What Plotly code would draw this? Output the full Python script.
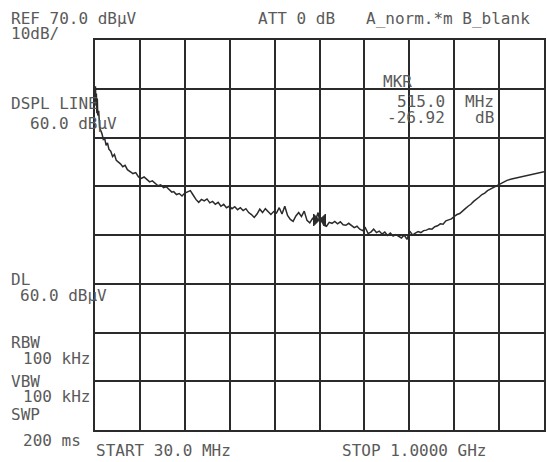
import plotly.graph_objects as go

# Swept trace A (30 MHz .. 1 GHz), level in dBuV
freq_mhz = [30, 31, 32, 33, 34, 35, 36, 38, 40, 42, 45, 48, 51, 54, 57, 60, 64, 68, 72, 76,
            80, 85, 90, 95, 100, 106, 112, 118, 124, 130, 136, 142, 148, 154, 160, 166, 172,
            178, 184, 190, 196, 200, 206, 212, 218, 224, 230, 236, 242, 248, 254, 260, 266,
            272, 278, 284, 290, 296, 302, 308, 314, 320, 326, 332, 338, 344, 350, 356, 362,
            368, 374, 380, 386, 392, 398, 404, 410, 416, 422, 428, 434, 440, 446, 452, 458,
            464, 470, 476, 482, 488, 494, 500, 506, 512, 515, 518, 524, 530, 536, 542, 548,
            554, 560, 566, 572, 578, 584, 590, 596, 602, 608, 614, 620, 626, 632, 638, 644,
            650, 656, 662, 668, 674, 680, 686, 692, 698, 704, 710, 716, 722, 728, 734, 740,
            746, 752, 758, 764, 770, 776, 782, 788, 794, 800, 806, 812, 818, 824, 830, 836,
            842, 848, 854, 860, 866, 872, 878, 884, 890, 896, 902, 910, 920, 930, 940, 950,
            960, 970, 980, 990, 1000]
level_dbuv = [57.5, 60.5, 56.5, 59.0, 55.0, 58.0, 54.5, 55.5, 52.0, 51.5, 50.8, 49.6, 49.8,
              48.4, 48.9, 47.6, 47.2, 46.1, 46.5, 45.3, 45.0, 44.6, 44.0, 44.3, 43.4, 43.0,
              42.6, 42.8, 41.9, 41.6, 41.9, 41.4, 40.9, 41.1, 40.5, 40.1, 40.3, 39.7, 39.9,
              39.3, 38.8, 38.9, 38.3, 38.5, 38.0, 38.6, 38.9, 39.1, 38.2, 37.3, 36.7, 37.3,
              37.0, 37.4, 36.6, 36.9, 36.3, 36.7, 35.9, 36.3, 35.6, 35.9, 35.4, 35.8, 35.2,
              35.6, 35.0, 35.4, 34.6, 34.2, 33.6, 34.3, 35.3, 34.6, 35.4, 34.7, 34.2, 34.8,
              34.5, 35.6, 34.3, 35.9, 34.0, 33.2, 32.8, 33.9, 34.6, 33.8, 34.9, 33.0, 32.5,
              33.4, 32.9, 34.6, 33.08, 33.6, 32.0, 31.8, 32.6, 32.4, 32.8, 32.3, 32.7, 32.1,
              32.0, 32.4, 31.9, 31.5, 31.8, 31.2, 30.9, 31.5, 30.3, 30.6, 31.2, 30.5, 30.8,
              30.2, 30.6, 29.9, 30.4, 29.8, 30.1, 29.7, 29.4, 30.0, 29.1, 30.8, 30.0, 30.4,
              30.7, 30.5, 30.9, 31.0, 31.3, 31.2, 31.7, 31.9, 32.3, 32.2, 32.9, 33.1, 33.3,
              33.8, 34.2, 34.4, 35.0, 35.4, 35.9, 36.3, 36.9, 37.3, 37.8, 38.3, 38.6, 39.1,
              39.4, 39.8, 40.0, 40.3, 40.8, 41.2, 41.5, 41.7, 41.9, 42.1, 42.3, 42.5, 42.7,
              43.0]

# Display settings
ref_level = 70.0        # dBuV, top graticule line
db_per_div = 10.0
n_vdiv = 8
start_mhz = 30.0
stop_mhz = 1000.0
dspl_line = 60.0        # dBuV, normalisation reference

# Marker readout (relative to display line)
mkr_freq = 515.0
mkr_rel_db = -26.92

W, H = 547, 462
L, R, T, B = 95, 1, 40, 32
PW, PH = W - L - R, H - T - B

ink = "#2b2b2b"
txt = "#5a5a5a"
mono = "DejaVu Sans Mono"

fig = go.Figure()
fig.add_trace(go.Scatter(
    x=freq_mhz, y=level_dbuv, mode="lines",
    line=dict(color=ink, width=1.5), hoverinfo="skip"))
fig.add_trace(go.Scatter(
    x=[mkr_freq], y=[dspl_line + mkr_rel_db], mode="markers",
    marker=dict(symbol="bowtie", size=12, color=ink,
                line=dict(color=ink, width=1)),
    hoverinfo="skip"))

bottom = ref_level - n_vdiv * db_per_div
fig.update_xaxes(range=[start_mhz, stop_mhz], tick0=start_mhz,
                 dtick=(stop_mhz - start_mhz) / 10, showgrid=True,
                 gridcolor=ink, gridwidth=1.5, showline=True, mirror=True,
                 linecolor=ink, linewidth=1.5, showticklabels=False,
                 ticks="", zeroline=False, fixedrange=True)
fig.update_yaxes(range=[bottom, ref_level], tick0=bottom, dtick=db_per_div,
                 showgrid=True, gridcolor=ink, gridwidth=1.5, showline=True,
                 mirror=True, linecolor=ink, linewidth=1.5,
                 showticklabels=False, ticks="", zeroline=False,
                 fixedrange=True)


def px(x):
    return (x - L) / PW


def py(y):
    return (H - B - y) / PH


labels = [
    ("REF 70.0 dBµV", 10, 19, "left"),
    ("10dB/", 10, 33, "left"),
    ("ATT 0 dB", 258, 19, "left"),
    ("A_norm.*m B_blank", 366, 19, "left"),
    ("DSPL LINE", 10, 104, "left"),
    ("60.0 dBµV", 29, 123, "left"),
    ("MKR", 383, 82, "left"),
    (f"{mkr_freq:.1f}", 448, 101, "right"),
    ("MHz", 497, 101, "right"),
    (f"{mkr_rel_db:.2f}", 448, 118, "right"),
    ("dB", 497, 118, "right"),
    ("DL", 10, 279, "left"),
    (f"{dspl_line:.1f} dBµV", 19, 295, "left"),
    ("RBW", 10, 342, "left"),
    ("100 kHz", 22, 358, "left"),
    ("VBW", 10, 381, "left"),
    ("100 kHz", 22, 396, "left"),
    ("SWP", 10, 414, "left"),
    ("200 ms", 22, 441, "left"),
    ("START 30.0 MHz", 95, 450, "left"),
    ("STOP 1.0000 GHz", 342, 450, "left"),
]
for text, x, y, anchor in labels:
    fig.add_annotation(text=text, x=px(x), y=py(y), xref="paper",
                       yref="paper", xanchor=anchor, yanchor="middle",
                       showarrow=False, borderpad=0,
                       font=dict(family=mono, size=16, color=txt))

fig.update_layout(width=W, height=H, margin=dict(l=L, r=R, t=T, b=B),
                  paper_bgcolor="white", plot_bgcolor="white",
                  showlegend=False)
fig.write_html("out.html", config={"displayModeBar": False})
